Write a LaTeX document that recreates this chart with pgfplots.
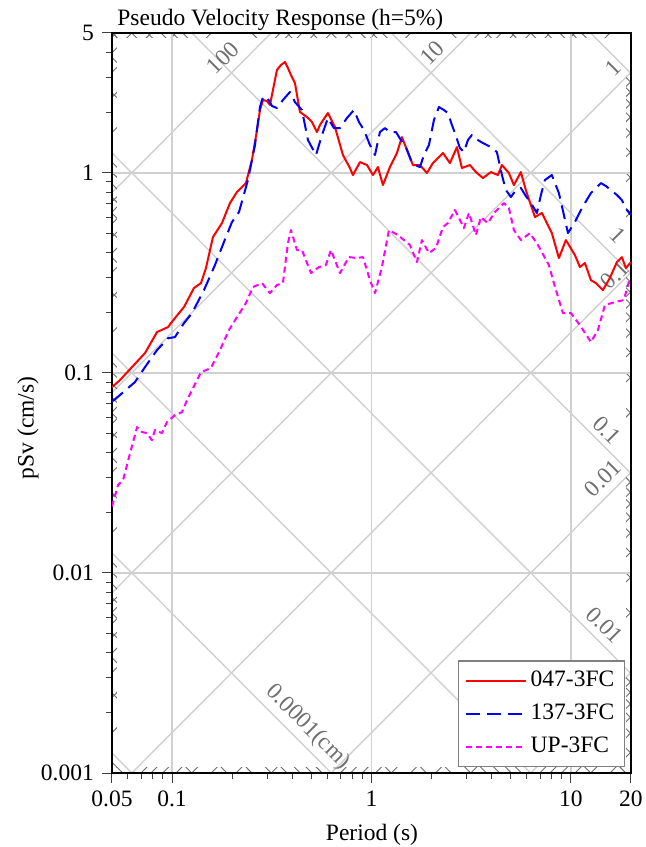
\documentclass[border=0pt]{standalone}
\usepackage{fontspec}
\setmainfont{Liberation Serif}
\usepackage{pgfplots}
\usepackage{pgfplotstable}
\pgfplotsset{compat=1.18}

\definecolor{gridgray}{RGB}{208,208,208}
\definecolor{tickgray}{RGB}{110,110,110}
\definecolor{labgray}{RGB}{112,112,112}
\definecolor{pink}{RGB}{255,0,255}

% period (s) vs pseudo velocity (cm/s)
\pgfplotstableread{
T Sv
0.05 0.0849
0.0548 0.0920
0.0623 0.1057
0.0732 0.1256
0.0841 0.160
0.0954 0.1694
0.1034 0.188
0.1148 0.2134
0.1288 0.2655
0.1397 0.2812
0.1479 0.334
0.1604 0.4776
0.1780 0.561
0.1952 0.706
0.2116 0.8017
0.2347 0.889
0.2515 1.159
0.2666 1.636
0.2760 2.06
0.2857 2.312
0.2992 2.285
0.3097 2.183
0.3243 2.748
0.3357 3.265
0.3516 3.459
0.3683 3.58
0.3812 3.34
0.3946 3.083
0.4132 2.812
0.4378 2.014
0.4746 1.901
0.5029 1.795
0.5328 1.599
0.5515 1.734
0.6047 1.991
0.6558 1.694
0.7193 1.227
0.7799 1.057
0.8072 0.975
0.8753 1.132
0.9490 1.094
1.017 0.975
1.077 1.069
1.141 0.869
1.237 1.069
1.341 1.256
1.421 1.51
1.506 1.30
1.614 1.094
1.750 1.094
1.897 0.998
2.032 1.119
2.281 1.256
2.473 1.119
2.681 1.345
2.840 1.057
3.115 1.094
3.338 1.009
3.618 0.942
3.968 1.009
4.303 0.975
4.507 1.094
4.885 0.998
5.175 0.869
5.61 1.009
5.94 0.820
6.60 0.601
7.15 0.630
8.02 0.500
8.70 0.375
9.43 0.461
10.47 0.388
11.09 0.338
11.75 0.354
12.59 0.291
13.34 0.281
14.46 0.2594
15.67 0.298
17.00 0.358
18.00 0.379
18.86 0.334
20 0.358
}\ewsn

\pgfplotstableread{
T Sv
0.05 0.0723
0.0512 0.0731
0.0652 0.0900
0.0732 0.1069
0.0841 0.130
0.0954 0.149
0.1034 0.151
0.1148 0.1774
0.1259 0.199
0.1446 0.2594
0.1641 0.346
0.1821 0.451
0.1998 0.5675
0.2166 0.637
0.2402 0.920
0.2605 1.377
0.2760 2.133
0.2857 2.393
0.2992 2.393
0.3169 2.158
0.3357 2.109
0.3597 2.312
0.3901 2.535
0.4132 2.259
0.4481 2.06
0.4802 1.458
0.5268 1.227
0.5644 1.545
0.6047 1.879
0.6483 1.674
0.6948 1.674
0.7533 1.879
0.8166 2.06
0.8652 1.795
0.9167 1.636
0.9822 1.377
1.041 1.227
1.102 1.599
1.168 1.674
1.237 1.599
1.326 1.599
1.405 1.458
1.488 1.345
1.576 1.159
1.651 1.094
1.750 1.069
1.832 1.227
1.941 1.377
2.056 1.837
2.178 2.133
2.308 2.06
2.417 1.991
2.531 1.734
2.620 1.581
2.776 1.330
2.907 1.270
3.044 1.458
3.187 1.545
3.416 1.458
3.618 1.409
3.968 1.345
4.253 1.270
4.507 0.975
4.720 0.820
5.000 0.757
5.296 0.820
5.61 0.840
5.94 0.766
6.30 0.706
6.75 0.630
7.07 0.775
7.40 0.920
8.02 0.975
8.70 0.792
9.22 0.615
9.66 0.500
10.47 0.5675
11.35 0.667
12.59 0.792
14.13 0.889
14.97 0.859
15.86 0.820
17.00 0.775
18.00 0.731
19.08 0.652
20 0.615
}\nsew

\pgfplotstableread{
T Sv
0.05 0.0215
0.0536 0.0275
0.0568 0.0291
0.0616 0.0397
0.0668 0.0536
0.0707 0.0506
0.0748 0.0500
0.0793 0.0461
0.0821 0.0518
0.0890 0.0500
0.0943 0.0568
0.1034 0.0615
0.1122 0.0637
0.1189 0.0731
0.1259 0.0820
0.1397 0.1009
0.1567 0.1057
0.1739 0.130
0.1929 0.1637
0.2116 0.190
0.2347 0.2234
0.2545 0.2685
0.2824 0.2812
0.3097 0.2506
0.3357 0.2748
0.3597 0.2812
0.3812 0.4457
0.3946 0.5176
0.4229 0.4113
0.4481 0.4113
0.4971 0.3155
0.5452 0.338
0.5910 0.346
0.6262 0.4113
0.6948 0.3155
0.7709 0.3793
0.8455 0.3750
0.9062 0.3793
0.9822 0.2911
1.041 0.2506
1.128 0.338
1.223 0.5176
1.357 0.4887
1.454 0.4613
1.558 0.4355
1.690 0.358
1.790 0.4613
1.941 0.3972
2.104 0.4207
2.281 0.5358
2.417 0.561
2.620 0.652
2.907 0.5297
3.079 0.630
3.338 0.4887
3.536 0.601
3.833 0.561
4.157 0.637
4.612 0.706
4.885 0.667
5.175 0.5176
5.61 0.4613
6.23 0.500
6.83 0.4355
7.75 0.346
8.21 0.2812
9.11 0.199
10.0 0.199
11.09 0.1734
12.59 0.1426
13.65 0.1637
14.80 0.2183
16.60 0.226
18.42 0.2312
19.5 0.2844
20 0.288
}\updown

\begin{document}
\fontsize{11.75pt}{14pt}\selectfont
\begin{tikzpicture}
\useasboundingbox (-56pt,-37pt) rectangle (267pt,386.5pt);

% tripartite grid, drawn in log10 units (origin at T=1 s, pSv=1 cm/s)
\begin{scope}[x=99.728pt, y=100.028pt, shift={(1.30103,3)}]
  \begin{scope}
    \clip (-1.30103,-3) rectangle (1.30103,0.69897);
    \foreach \k in {-6,...,3}{
      \draw[gridgray, line width=0.7pt] (-1.30103,{\k-2.09921}) -- (1.30103,{\k+0.50285});
      \draw[gridgray, line width=0.7pt] (-1.30103,{\k+2.09921}) -- (1.30103,{\k-0.50285});
    }
  \end{scope}
  % short marks for the intermediate values, along the four edges
  \foreach \ca/\cb/\cc/\cd in {-1.30103/-3/-1.27603/0.69897, 1.27603/-3/1.30103/0.69897,
                               -1.30103/-3/1.30103/-2.975, -1.30103/0.67397/1.30103/0.69897}{
    \begin{scope}
      \clip (\ca,\cb) rectangle (\cc,\cd);
      \foreach \k in {-6,...,3}{
        \foreach \m in {2,...,9}{
          \pgfmathsetmacro\c{\k+ln(\m)/ln(10)}
          \draw[tickgray, line width=0.45pt] (-1.30103,{\c-2.09921}) -- (1.30103,{\c+0.50285});
          \draw[tickgray, line width=0.45pt] (-1.30103,{\c+2.09921}) -- (1.30103,{\c-0.50285});
        }
      }
    \end{scope}
  }
  \begin{scope}[every node/.style={labgray, inner sep=0pt}]
    \node[rotate=45]  at (-0.7446,0.574) {100};
    \node[rotate=45]  at (0.303,0.599) {10};
    \node[rotate=45]  at (1.210,0.524) {1};
    \node[rotate=-45] at (1.235,-0.311) {1};
    \node[rotate=45]  at (1.220,-0.511) {0.1};
    \node[rotate=-45] at (1.180,-1.286) {0.1};
    \node[rotate=45]  at (1.160,-1.526) {0.01};
    \node[rotate=-45] at (1.170,-2.261) {0.01};
    \node[rotate=-45] at (-0.3185,-2.771) {0.0001(cm)};
  \end{scope}
\end{scope}

\begin{axis}[
  at={(0,0)}, anchor=south west,
  scale only axis, width=259.5pt, height=370pt,
  xmode=log, ymode=log,
  xmin=0.05, xmax=20, ymin=0.001, ymax=5,
  xtick={0.05,0.1,1,10,20}, xticklabels={0.05,0.1,1,10,20},
  ytick={0.001,0.01,0.1,1,5}, yticklabels={0.001,0.01,0.1,1,5},
  minor xtick={0.06,0.07,0.08,0.09,0.2,0.3,0.4,0.5,0.6,0.7,0.8,0.9,2,3,4,5,6,7,8,9},
  minor ytick={0.002,0.003,0.004,0.005,0.006,0.007,0.008,0.009,
               0.02,0.03,0.04,0.05,0.06,0.07,0.08,0.09,
               0.2,0.3,0.4,0.5,0.6,0.7,0.8,0.9,2,3,4},
  tick align=outside, tick pos=left,
  major tick length=5pt, minor tick length=3pt,
  every tick/.style={black!75, line width=0.5pt},
  grid=major, major grid style={gridgray, line width=0.7pt},
  axis line style={line width=1pt},
  legend style={at={(1,0)}, anchor=south east, xshift=-3pt, yshift=3pt,
    draw=black!50, line width=0.7pt, fill=white,
    inner xsep=3pt, inner ysep=3pt, row sep=3pt, cells={anchor=west}},
  legend image code/.code={\draw[#1] (0pt,0pt) -- (30pt,0pt);},
]
\addplot[red, line width=1pt, line join=round] table[x=T, y=Sv] {\ewsn};
\addlegendentry{047-3FC}
\addplot[blue, line width=1pt, line join=round, dash pattern=on 7pt off 3.5pt] table[x=T, y=Sv] {\nsew};
\addlegendentry{137-3FC}
\addplot[pink, line width=1pt, line join=round, dash pattern=on 3pt off 2pt] table[x=T, y=Sv] {\updown};
\addlegendentry{UP-3FC}
\end{axis}

\node[anchor=base west, inner sep=0pt] at (2.5pt,373.75pt) {Pseudo Velocity Response (h=5\%)};
\node[rotate=90, inner sep=0pt] at (-42pt,172.5pt) {pSv (cm/s)};
\node[anchor=base, inner sep=0pt] at (130pt,-34pt) {Period (s)};
\end{tikzpicture}
\end{document}
